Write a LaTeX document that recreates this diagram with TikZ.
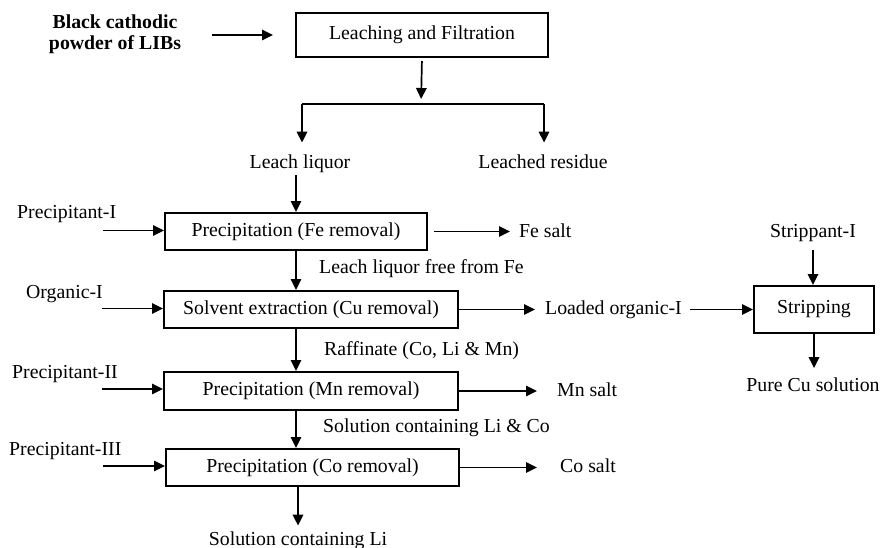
\documentclass[tikz,border=0pt]{standalone}
\usepackage{fontspec}
\setmainfont{Liberation Serif}
\usetikzlibrary{arrows.meta}
\begin{document}
\begin{tikzpicture}[x=1pt,y=-1pt,
  txt/.style={font=\fontsize{19.8pt}{21pt}\selectfont, inner sep=0pt},
  unit/.style={txt, draw, line width=2pt, anchor=north west, align=center},
  lbl/.style={txt, anchor=base},
  lblw/.style={txt, anchor=base west},
  flow/.style={line width=1.7pt, -{Triangle[length=11pt,width=10.5pt]}},
  plain/.style={line width=1.7pt}]
\useasboundingbox (0,0) rectangle (880,548);

% process units
\node[unit, minimum width=252pt, minimum height=44pt] (b1) at (295,12) {Leaching and Filtration};
\node[unit, minimum width=262pt, minimum height=37pt] (b2) at (164,212) {Precipitation (Fe removal)};
\node[unit, minimum width=294pt, minimum height=37pt] (b3) at (163,290) {Solvent extraction (Cu removal)};
\node[unit, minimum width=294pt, minimum height=38pt] (b4) at (163,371) {Precipitation (Mn removal)};
\node[unit, minimum width=293pt, minimum height=37pt] (b5) at (165,448) {Precipitation (Co removal)};
\node[unit, minimum width=120pt, minimum height=47pt] (st) at (753,285) {Stripping};

% feed
\node[txt, align=center, font=\fontsize{19.8pt}{21pt}\selectfont\bfseries] (feed) at (115,34)
  {Black cathodic\\powder of LIBs};
\draw[flow, shorten <=31pt, shorten >=22pt] (feed.east |- b1.west) -- (b1.west);

% leaching split
\coordinate (split) at (421,104);
\coordinate (bl) at (302,104);
\coordinate (br) at (544,104);
\coordinate (axis) at (296,0);
\node[lbl] (ll) at (300,168) {Leach liquor};
\node[lbl] (lr) at (543,168) {Leached residue};
\draw[flow, shorten <=3pt, shorten >=5pt] (b1.south) -- (split);
\draw[plain] (bl) -- (br);
\draw[flow, shorten >=11.5pt] (bl) -- (bl |- ll.north);
\draw[flow, shorten >=11.5pt] (br) -- (br |- lr.north);

% reagent inputs
\node[lblw] (pi1) at (17,218) {Precipitant-I};
\node[lblw] (org) at (26,298) {Organic-I};
\node[lblw] (pi2) at (12,378) {Precipitant-II};
\node[lblw] (pi3) at (9,455) {Precipitant-III};
\coordinate (in1) at (103,230.5);
\coordinate (in2) at (102,308.5);
\coordinate (in3) at (102,389);
\coordinate (in4) at (103,466);
\draw[flow] (in1) -- (b2.west |- in1);
\draw[flow] (in2) -- (b3.west |- in2);
\draw[flow] (in3) -- (b4.west |- in3);
\draw[flow] (in4) -- (b5.west |- in4);

% main stream
\node[lblw] (s1) at (319,273) {Leach liquor free from Fe};
\node[lblw] (s2) at (324,355) {Raffinate (Co, Li \& Mn)};
\node[lblw] (s3) at (323,432) {Solution containing Li \& Co};
\node[lbl] (s4) at (298,545) {Solution containing Li};
\draw[flow, shorten <=3pt] (ll.south -| axis) -- (b2.north -| axis);
\draw[flow] (b2.south -| axis) -- (b3.north -| axis);
\draw[flow] (b3.south -| axis) -- (b4.north -| axis);
\draw[flow] (b4.south -| axis) -- (b5.north -| axis);
\draw[flow, shorten >=5.5pt] (b5.south -| s4.north) -- (s4.north);

% products
\node[lblw] (fe) at (519,237) {Fe salt};
\node[lblw] (lo) at (545,314) {Loaded organic-I};
\node[lblw] (mn) at (557,396) {Mn salt};
\node[lblw] (co) at (560,472) {Co salt};
\draw[flow, shorten <=6pt, shorten >=9pt] (b2.east) -- (b2.east -| fe.west);
\draw[flow, shorten >=10pt] (b3.east) -- (b3.east -| lo.west);
\draw[flow, shorten >=20pt] (b4.east) -- (b4.east -| mn.west);
\draw[flow, shorten >=23pt] (b5.east) -- (b5.east -| co.west);

% stripping of the loaded organic
\node[lbl] (sp) at (813,237) {Strippant-I};
\node[lbl] (pc) at (813,391) {Pure Cu solution};
\draw[flow, shorten <=8pt] (lo.east |- st.west) -- (st.west);
\draw[flow, shorten <=9pt] (sp.south) -- (sp.south |- st.north);
\draw[flow, shorten >=9pt] (st.south) -- (st.south |- pc.north);
\end{tikzpicture}
\end{document}
